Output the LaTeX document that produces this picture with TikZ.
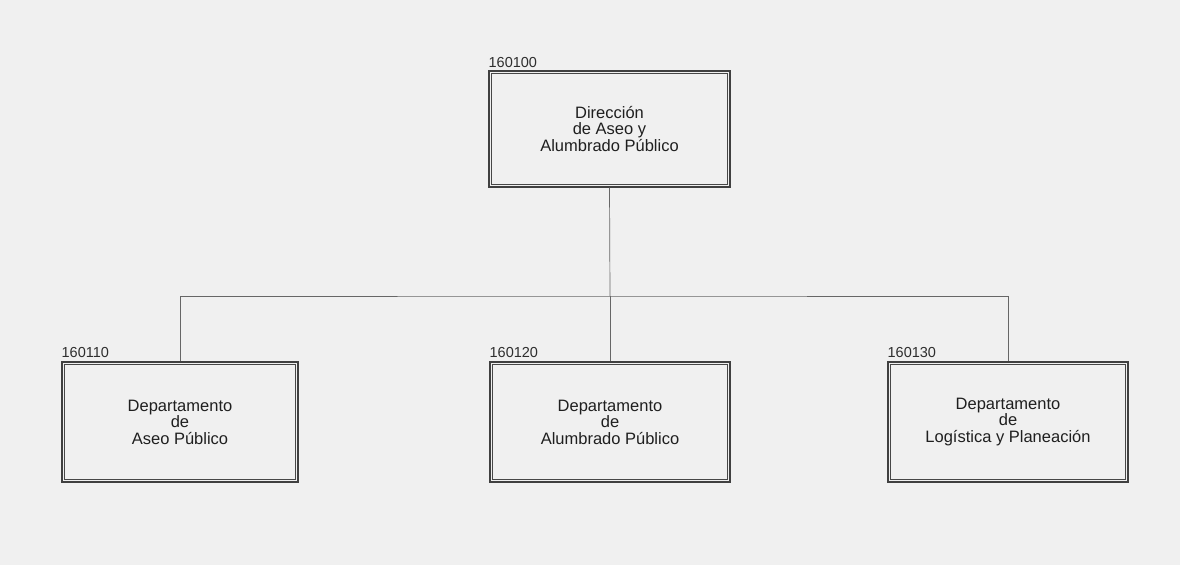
\documentclass[tikz,border=0pt]{standalone}
\usepackage{fontspec}
\setmainfont{Liberation Sans}
\begin{document}
\begin{tikzpicture}[x=1pt,y=-1pt,
  orgbox/.style={draw=black!75, line width=1.1pt,
    minimum width=240pt, minimum height=116pt, inner sep=0pt, align=center,
    font=\fontsize{16.5}{16.5}\selectfont, text=black!88},
  innerframe/.style={draw=black!72, line width=0.9pt},
  code/.style={font=\fontsize{14.5}{14.5}\selectfont, text=black!82, inner sep=0pt, anchor=base west},
  link/.style={draw=black!60, line width=0.7pt}]
\fill[white!94!black] (0,0) rectangle (1180,565);
\useasboundingbox (0,0) rectangle (1180,565);
\node[orgbox, minimum width=241pt] (top) at (609.5,129) {Dirección\\de Aseo y\\Alumbrado Público};
\node[orgbox, minimum height=120pt, minimum width=236pt] (b1) at (180,422) {Departamento\\de\\Aseo Público};
\node[orgbox, minimum height=120pt] (b2) at (610,422) {Departamento\\de\\Alumbrado Público};
\node[orgbox, minimum height=120pt] (b3) at (1008,422) {Departamento\\de\\Logística y Planeación};
\foreach \n in {top,b1,b2,b3}
  \draw[innerframe] ([shift={(3.3pt,-3.3pt)}]\n.north west) rectangle ([shift={(-3.3pt,3.3pt)}]\n.south east);
\node[code] (c0) at ([yshift=3pt]top.north west) {160100};
\node[code] (c1) at ([yshift=4pt]b1.north west) {160110};
\node[code] (c2) at ([yshift=4pt]b2.north west) {160120};
\node[code] (c3) at ([yshift=4pt]b3.north west) {160130};
\coordinate (bus) at (610,296);
\draw[link] (top.south) -- (bus);
\draw[link] (b1.north) |- (bus) -| (b3.north);
\draw[link] (bus) -- (b2.north);
\end{tikzpicture}
\end{document}
